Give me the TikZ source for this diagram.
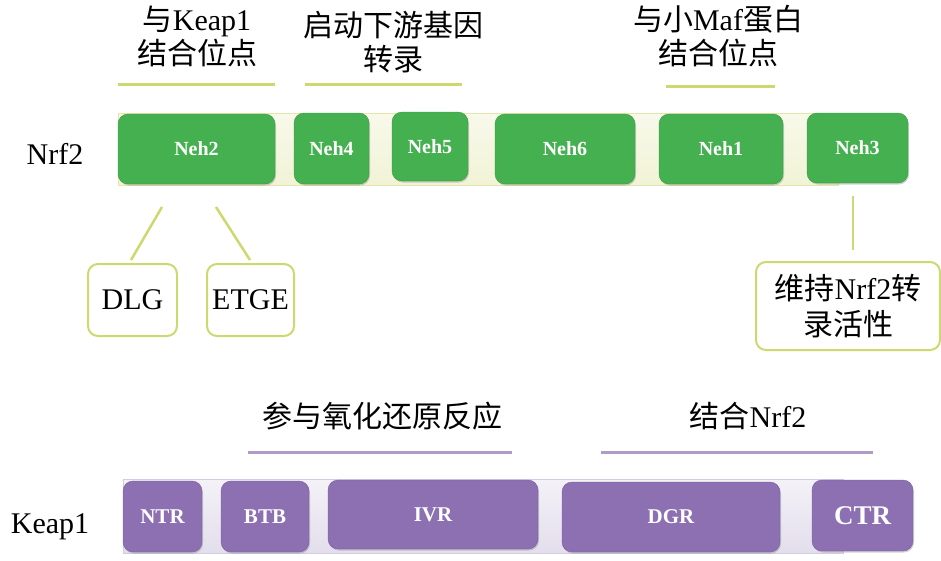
\documentclass[tikz,border=0pt]{standalone}
\usepackage{fontspec}
\setmainfont{Liberation Serif}
\newfontfamily\cjk{Noto Sans CJK SC}
\usetikzlibrary{shadows}
\definecolor{nrfgreen}{HTML}{45B04F}
\definecolor{nrfedge}{HTML}{3A9A42}
\definecolor{kpurple}{HTML}{8C70B1}
\definecolor{kedge}{HTML}{7A5FA0}
\definecolor{lineyg}{HTML}{CDD86E}
\definecolor{ybar}{HTML}{F1F3D6}
\definecolor{ybaredge}{HTML}{E2E6A6}
\definecolor{pbar}{HTML}{E3DEEC}
\definecolor{pbaredge}{HTML}{D3CBE2}
\tikzset{
  gbox/.style={draw=nrfedge, fill=nrfgreen, rounded corners=10pt, text=white,
    font=\fontsize{20}{22}\selectfont\bfseries,
    drop shadow={shadow xshift=1pt, shadow yshift=-1.5pt, opacity=0.35}},
  pbox/.style={draw=kedge, fill=kpurple, rounded corners=10pt, text=white,
    font=\fontsize{21}{23}\selectfont\bfseries,
    drop shadow={shadow xshift=1pt, shadow yshift=-1.5pt, opacity=0.35}},
  ybarstyle/.style={draw=ybaredge, line width=1pt, top color=ybar!50!white, bottom color=ybar},
  pbarstyle/.style={draw=pbaredge, line width=1pt, top color=pbar!40!white, bottom color=pbar},
  lbl/.style={font=\fontsize{30}{34}\selectfont, align=center, inner sep=0pt},
  uline/.style={draw=lineyg, line width=3pt},
  pline/.style={draw=kpurple!70, line width=3pt},
  conn/.style={draw=lineyg, line width=2.5pt},
  wbox/.style={draw=lineyg, line width=2pt, fill=white, rounded corners=10pt,
    font=\fontsize{30}{36}\selectfont, align=center, inner sep=0pt},
}
\begin{document}
\begin{tikzpicture}[x=1pt,y=-1pt]
\useasboundingbox (0,0) rectangle (941,560);

% ---------------- Nrf2 ----------------
\node[lbl, anchor=base] (nrf2lbl) at (55,164) {Nrf2};
\node[ybarstyle, minimum width=720pt, minimum height=72pt, inner sep=0pt] (nbar) at (478,149) {};
\node[gbox, minimum width=157pt, minimum height=70pt] (neh2) at (196.5,149) {Neh2};
\node[gbox, minimum width=75pt, minimum height=71pt] (neh4) at (331.5,148.5) {Neh4};
\node[gbox, minimum width=76pt, minimum height=69pt] (neh5) at (430,146.5) {Neh5};
\node[gbox, minimum width=140pt, minimum height=70pt] (neh6) at (565,149) {Neh6};
\node[gbox, minimum width=124pt, minimum height=70pt] (neh1) at (721,149) {Neh1};
\node[gbox, minimum width=101pt, minimum height=70pt] (neh3) at (857.5,148) {Neh3};

% top labels
\node[lbl] (t1) at (197,36) {{\cjk 与}Keap1\\{\cjk 结合位点}};
\node[lbl] (t2) at (393,42) {{\cjk 启动下游基因}\\{\cjk 转录}};
\node[lbl] (t3) at (718,36) {{\cjk 与小}Maf{\cjk 蛋白}\\{\cjk 结合位点}};
\coordinate (u1a) at (118,84); \coordinate (u1b) at (275,84);
\coordinate (u2a) at (305,84); \coordinate (u2b) at (462,84);
\coordinate (u3a) at (666,86); \coordinate (u3b) at (775,86);
\draw[uline] (u1a) -- (u1b);
\draw[uline] (u2a) -- (u2b);
\draw[uline] (u3a) -- (u3b);

% sub-boxes
\node[wbox, minimum width=89pt, minimum height=72pt] (dlg) at (132.5,300) {DLG};
\node[wbox, minimum width=87pt, minimum height=72pt] (etge) at (250.5,300) {ETGE};
\node[wbox, minimum width=184pt, minimum height=88pt] (keep) at (848,306) {{\cjk 维持}Nrf2{\cjk 转}\\{\cjk 录活性}};
\coordinate (c1) at (162,207);
\coordinate (c2) at (216,207);
\coordinate (c3) at (853,196);
\coordinate (d1) at (131,260);
\coordinate (d2) at (250,260);
\coordinate (d3) at (853,250);
\draw[conn] (c1) -- (d1);
\draw[conn] (c2) -- (d2);
\draw[conn] (c3) -- (d3);

% ---------------- Keap1 ----------------
\node[lbl, anchor=base] (keap1lbl) at (50,533) {Keap1};
\node[pbarstyle, minimum width=720pt, minimum height=74pt, inner sep=0pt] (kbar) at (483,516) {};
\node[pbox, minimum width=79pt, minimum height=71pt] (ntr) at (162.5,516.5) {NTR};
\node[pbox, minimum width=88pt, minimum height=71pt] (btb) at (265,516.5) {BTB};
\node[pbox, minimum width=210pt, minimum height=69pt] (ivr) at (433,514.5) {IVR};
\node[pbox, minimum width=218pt, minimum height=70pt] (dgr) at (671,517) {DGR};
\node[pbox, minimum width=101pt, minimum height=71pt, font=\fontsize{27}{29}\selectfont\bfseries] (ctr) at (862.5,515.5) {CTR};

\node[lbl] (t4) at (382,416) {{\cjk 参与氧化还原反应}};
\node[lbl] (t5) at (748,416) {{\cjk 结合}Nrf2};
\coordinate (u4a) at (248,452); \coordinate (u4b) at (512,452);
\coordinate (u5a) at (601,452); \coordinate (u5b) at (873,452);
\draw[pline] (u4a) -- (u4b);
\draw[pline] (u5a) -- (u5b);
\end{tikzpicture}
\end{document}
